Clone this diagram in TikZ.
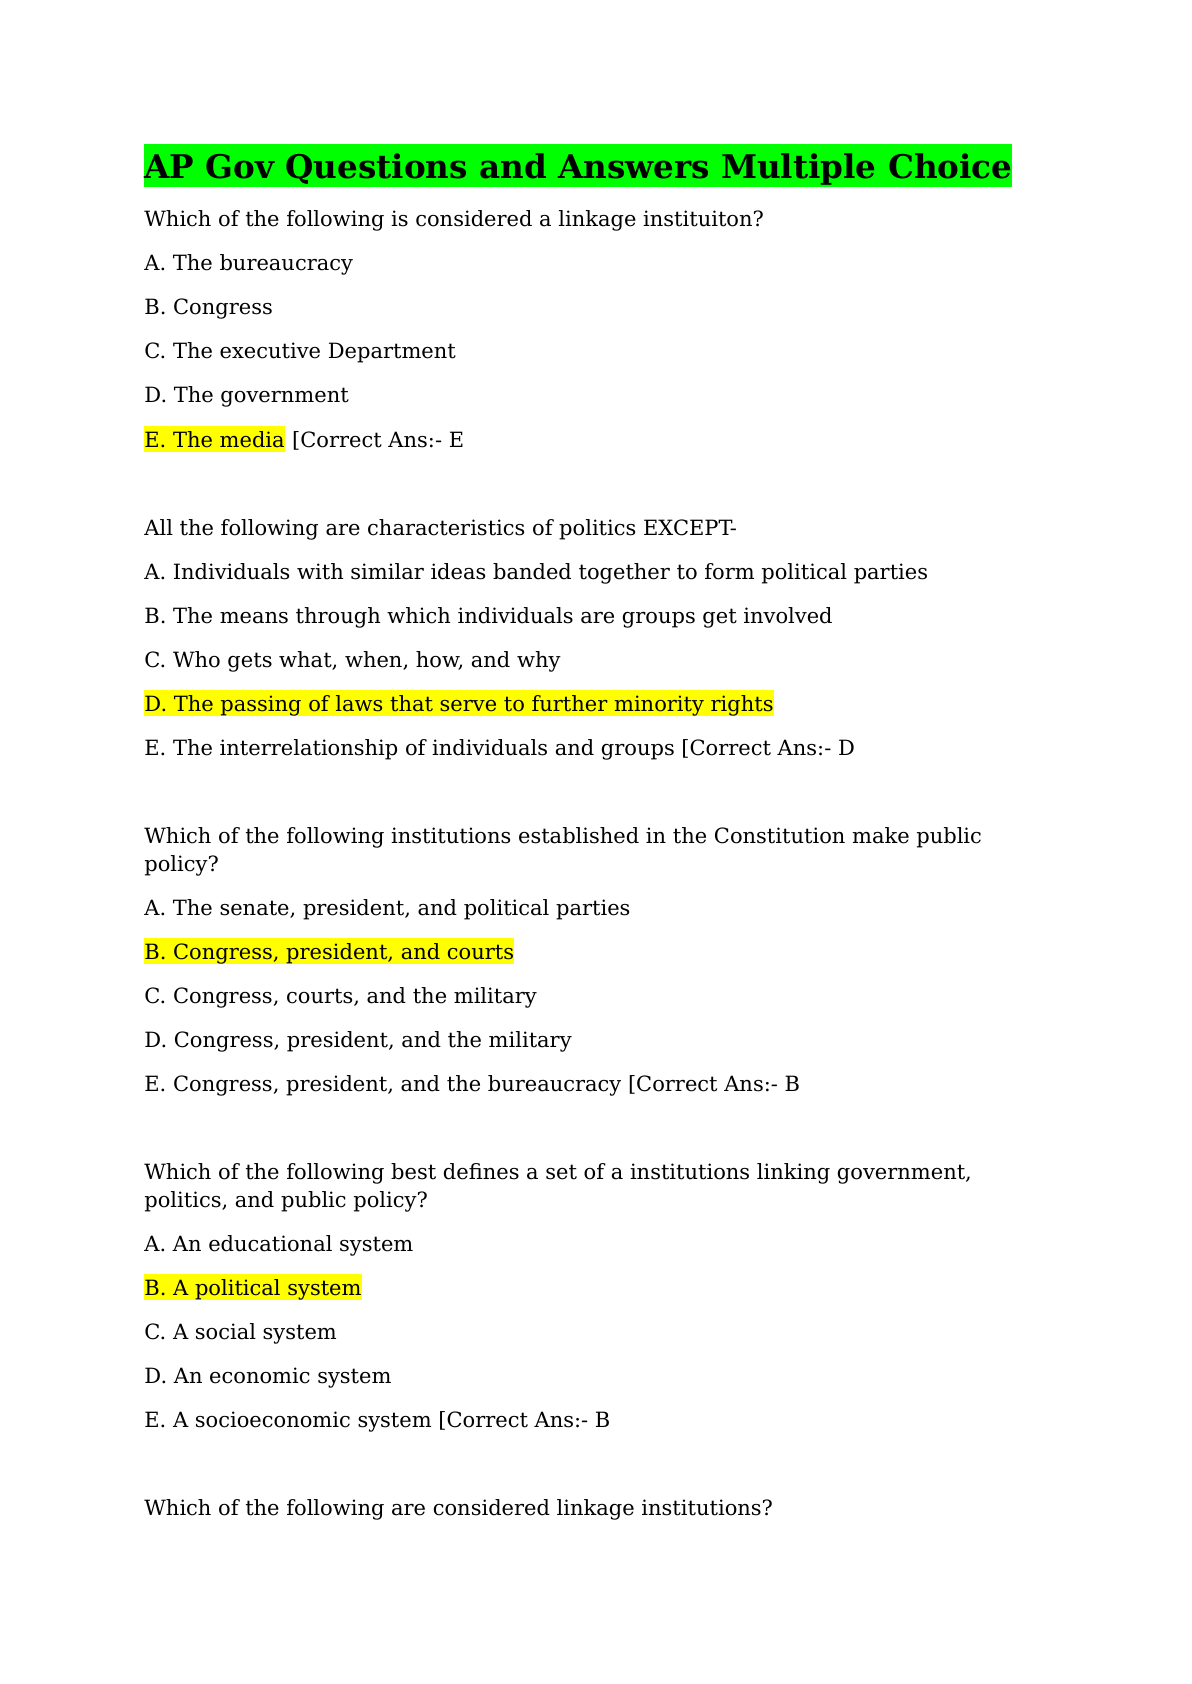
\documentclass[tikz,border=0pt]{standalone}
\usepackage{fontspec}
\setmainfont{DejaVu Serif}
\usetikzlibrary{positioning}
\definecolor{hlyellow}{RGB}{255,255,0}
\definecolor{hlgreen}{RGB}{0,255,0}
\def\bodysize{\fontsize{10.5pt}{14pt}\selectfont}
\tikzset{
	txt/.style={anchor=base west, inner sep=0pt, font=\bodysize},
	hiyel/.style={txt, fill=hlyellow, text height=10.5pt, text depth=2.5pt},
	higrn/.style={anchor=base west, inner sep=0pt, fill=hlgreen, text height=17.5pt, text depth=4pt, font=\bfseries\fontsize{16.3pt}{20pt}\selectfont},
	rest/.style={txt, anchor=base west}
}

\begin{document}
\begin{tikzpicture}[x=0.5pt, y=-0.5pt]
		%%%%% START %%%%%
		\useasboundingbox[fill=white] (0, 0) rectangle (1191, 1684);
		
		\node[higrn] (title) at (144, 179) {AP Gov Questions and Answers Multiple Choice};
		
		\node[txt] (q1) at (144, 227) {Which of the following is considered a linkage instituiton?};
		\node[txt] (q1a) at (144, 271) {A. The bureaucracy};
		\node[txt] (q1b) at (144, 315) {B. Congress};
		\node[txt] (q1c) at (144, 359) {C. The executive Department};
		\node[txt] (q1d) at (144, 403) {D. The government};
		\node[hiyel] (q1e) at (144, 447) {E. The media};
		\node[rest] (q1ans) at (q1e.base east) {\ [Correct Ans:- E};
		
		\node[txt] (q2) at (144, 535) {All the following are characteristics of politics EXCEPT-};
		\node[txt] (q2a) at (144, 579) {A. Individuals with similar ideas banded together to form political parties};
		\node[txt] (q2b) at (144, 623) {B. The means through which individuals are groups get involved};
		\node[txt] (q2c) at (144, 667) {C. Who gets what, when, how, and why};
		\node[hiyel] (q2d) at (144, 711) {D. The passing of laws that serve to further minority rights};
		\node[txt] (q2e) at (144, 755) {E. The interrelationship of individuals and groups [Correct Ans:- D};
		
		\node[txt] (q3) at (144, 843) {Which of the following institutions established in the Constitution make public};
		\node[txt] (q3l) at (144, 871) {policy?};
		\node[txt] (q3a) at (144, 915) {A. The senate, president, and political parties};
		\node[hiyel] (q3b) at (144, 959) {B. Congress, president, and courts};
		\node[txt] (q3c) at (144, 1003) {C. Congress, courts, and the military};
		\node[txt] (q3d) at (144, 1047) {D. Congress, president, and the military};
		\node[txt] (q3e) at (144, 1091) {E. Congress, president, and the bureaucracy [Correct Ans:- B};
		
		\node[txt] (q4) at (144, 1179) {Which of the following best defines a set of a institutions linking government,};
		\node[txt] (q4l) at (144, 1207) {politics, and public policy?};
		\node[txt] (q4a) at (144, 1251) {A. An educational system};
		\node[hiyel] (q4b) at (144, 1295) {B. A political system};
		\node[txt] (q4c) at (144, 1339) {C. A social system};
		\node[txt] (q4d) at (144, 1383) {D. An economic system};
		\node[txt] (q4e) at (144, 1427) {E. A socioeconomic system [Correct Ans:- B};
		
		\node[txt] (q5) at (144, 1515) {Which of the following are considered linkage institutions?};
		
		%%%%% END %%%%%
	\end{tikzpicture}
\end{document}
